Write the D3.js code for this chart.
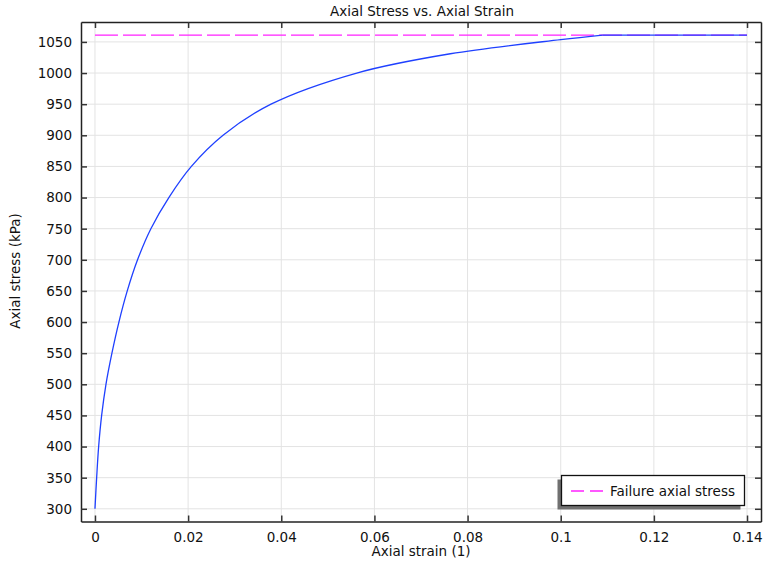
<!DOCTYPE html>
<html><head><meta charset="utf-8">
<script src="https://cdn.jsdelivr.net/npm/d3@7"></script>
<style>body{margin:0;background:#fff}svg{display:block}text{font-family:"DejaVu Sans",sans-serif;fill:#111}</style>
</head><body><svg id="c" width="764" height="563"></svg>
<script>
const strain = [0,0.00036,0.00079,0.00143,0.00236,0.00364,0.00514,0.00693,0.00914,0.0120,0.01586,0.0207,0.0275,0.0378,0.0562,0.0763,0.1,0.109,0.14];
const stress = [300,350,400,450,500,550,600,650,700,750,800,850,900,950,1000,1031,1053.7,1061,1061];
const failureStress = 1061;
const xTicks = [0,0.02,0.04,0.06,0.08,0.1,0.12,0.14];
const yTicks = [300,350,400,450,500,550,600,650,700,750,800,850,900,950,1000,1050];
const title = "Axial Stress vs. Axial Strain";
const xLabel = "Axial strain (1)";
const yLabel = "Axial stress (kPa)";
const legendLabel = "Failure axial stress";

const svg = d3.select("#c");
const L=81, R=761, T=22, B=521.5;
const FS = 13.5;
const x = d3.scaleLinear().domain([-0.003, 0.1430]).range([L,R]);
const y = d3.scaleLinear().domain([279.6, 1082]).range([B,T]);

// grid
svg.append("g").selectAll("line").data(xTicks).join("line")
  .attr("x1",d=>x(d)).attr("x2",d=>x(d)).attr("y1",T).attr("y2",B)
  .attr("stroke","#e3e3e3").attr("stroke-width",1);
svg.append("g").selectAll("line").data(yTicks).join("line")
  .attr("x1",L).attr("x2",R).attr("y1",d=>y(d)).attr("y2",d=>y(d))
  .attr("stroke","#e3e3e3").attr("stroke-width",1);

// axes
const fmtX = d=>d===0?"0":String(+d.toFixed(2));
const gB = svg.append("g").attr("transform",`translate(0,${B})`)
  .call(d3.axisBottom(x).tickValues(xTicks).tickFormat(fmtX).tickSizeInner(-6).tickSizeOuter(0).tickPadding(11));
const gT = svg.append("g").attr("transform",`translate(0,${T})`)
  .call(d3.axisTop(x).tickValues(xTicks).tickFormat("").tickSizeInner(-6).tickSizeOuter(0));
const gL = svg.append("g").attr("transform",`translate(${L},0)`)
  .call(d3.axisLeft(y).tickValues(yTicks).tickFormat(d3.format("d")).tickSizeInner(-6).tickSizeOuter(0).tickPadding(9));
const gR = svg.append("g").attr("transform",`translate(${R},0)`)
  .call(d3.axisRight(y).tickValues(yTicks).tickFormat("").tickSizeInner(-6).tickSizeOuter(0));
[gB,gT,gL,gR].forEach(g=>{
  g.selectAll(".domain").attr("stroke","#222").attr("stroke-width",1.5);
  g.selectAll(".tick line").attr("stroke","#333").attr("stroke-width",1.5);
  g.selectAll("text").attr("font-size",FS).attr("fill","#111").style("font-family","DejaVu Sans, sans-serif");
});

// failure line
svg.append("line").attr("x1",x(0)).attr("x2",x(0.14)).attr("y1",y(failureStress)).attr("y2",y(failureStress))
  .attr("stroke","#ff22ff").attr("stroke-width",1.3).attr("stroke-dasharray","23,5");

// curve: rising part smoothed, plateau straight
const pts = strain.map((s,i)=>[s,stress[i]]);
const iFail = stress.indexOf(failureStress);
const rising = pts.slice(0, iFail+1);
const plateau = pts.slice(iFail);
svg.append("path").datum(rising)
  .attr("d",d3.line().x(d=>x(d[0])).y(d=>y(d[1])).curve(d3.curveCatmullRom.alpha(0.5)))
  .attr("fill","none").attr("stroke","#1f40ff").attr("stroke-width",1.3);
svg.append("path").datum(plateau)
  .attr("d",d3.line().x(d=>x(d[0])).y(d=>y(d[1])))
  .attr("fill","none").attr("stroke","#1f40ff").attr("stroke-width",1.3);

// titles
svg.append("text").attr("x",422).attr("y",16).attr("text-anchor","middle").attr("font-size",FS).text(title);
svg.append("text").attr("x",421).attr("y",556).attr("text-anchor","middle").attr("font-size",FS).text(xLabel);
svg.append("text").attr("transform","translate(20,271) rotate(-90)").attr("text-anchor","middle").attr("font-size",FS).text(yLabel);

// legend
const lg = svg.append("g");
lg.append("rect").attr("x",557.5).attr("y",479.5).attr("width",183).attr("height",30).attr("fill","#707070");
lg.append("rect").attr("x",561.5).attr("y",475.5).attr("width",183).attr("height",30).attr("fill","#fff").attr("stroke","#111").attr("stroke-width",1.3);
lg.append("line").attr("x1",571).attr("x2",604).attr("y1",491).attr("y2",491)
  .attr("stroke","#ff22ff").attr("stroke-width",1.3).attr("stroke-dasharray","13,6");
lg.append("text").attr("x",610).attr("y",496).attr("font-size",FS).text(legendLabel);
</script></body></html>
